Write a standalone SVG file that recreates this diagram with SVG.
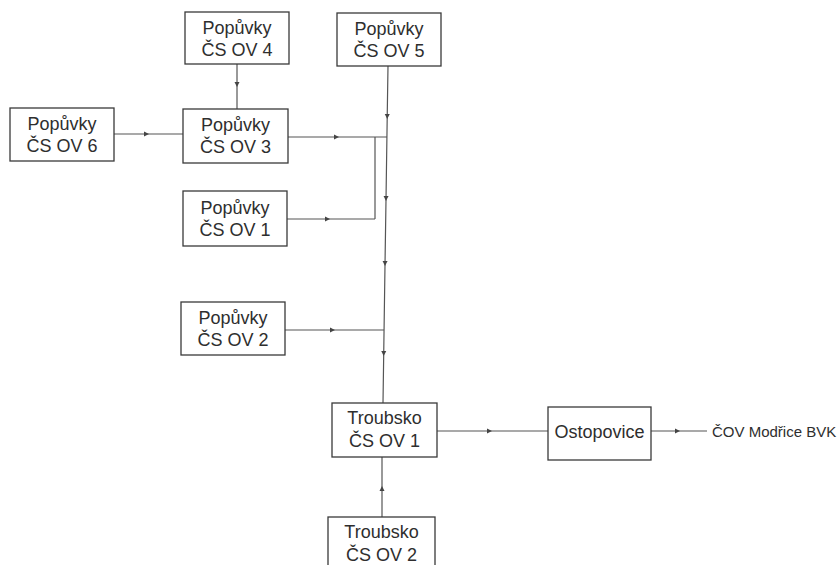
<svg xmlns="http://www.w3.org/2000/svg" width="839" height="565" viewBox="0 0 839 565">
<style>
.box{fill:#fff;stroke:#3a3a3a;stroke-width:1.3}
.t{font-family:"Liberation Sans",Arial,sans-serif;font-size:18px;fill:#2e2e2e;text-anchor:middle}
.lbl{font-family:"Liberation Sans",Arial,sans-serif;font-size:15px;fill:#2e2e2e}
.c{fill:none;stroke:#555;stroke-width:1.2}
.a{marker-mid:url(#arr)}
</style>
<defs>
<marker id="arr" markerUnits="userSpaceOnUse" markerWidth="8" markerHeight="8" refX="4" refY="3" orient="auto" viewBox="0 0 8 6">
<path d="M0,0.5 L5,3 L0,5.5 Z" fill="#444"/>
</marker>
</defs>
<rect width="839" height="565" fill="#fff"/>
<g id="connectors">
<path class="c a" d="M114,134 L148,134 L183,134"/>
<path class="c a" d="M237,64 L237,86 L237,109"/>
<path class="c a" d="M388,66 L387.2,118 L386,200 L385,265 L383.7,355 L383,403"/>
<path class="c a" d="M288,137 L338,137 L387,137"/>
<path class="c a" d="M287,219 L329,219 L375,219"/>
<path class="c" d="M375,219 L375,137"/>
<path class="c a" d="M285,330 L334,330 L384,330"/>
<path class="c a" d="M437,431 L491,431 L548,431"/>
<path class="c a" d="M651,431 L679,431 L707,431"/>
<path class="c a" d="M382,517 L382,487 L382,457"/>
</g>
<g id="ov6"><rect class="box" x="10" y="108" width="104" height="53"/><text class="t" x="62" y="130">Popůvky</text><text class="t" x="62" y="152">ČS OV 6</text></g>
<g id="ov4"><rect class="box" x="185" y="12" width="104" height="52"/><text class="t" x="237" y="34">Popůvky</text><text class="t" x="237" y="56">ČS OV 4</text></g>
<g id="ov5"><rect class="box" x="337" y="13" width="104" height="53"/><text class="t" x="389" y="35">Popůvky</text><text class="t" x="389" y="57">ČS OV 5</text></g>
<g id="ov3"><rect class="box" x="183" y="109" width="105" height="54"/><text class="t" x="235.5" y="131">Popůvky</text><text class="t" x="235.5" y="153">ČS OV 3</text></g>
<g id="ov1"><rect class="box" x="183" y="191" width="104" height="55"/><text class="t" x="235" y="214">Popůvky</text><text class="t" x="235" y="236">ČS OV 1</text></g>
<g id="ov2"><rect class="box" x="181" y="302" width="104" height="53"/><text class="t" x="233" y="324">Popůvky</text><text class="t" x="233" y="346">ČS OV 2</text></g>
<g id="troubsko1"><rect class="box" x="332" y="403" width="105" height="54"/><text class="t" x="384.5" y="424">Troubsko</text><text class="t" x="384.5" y="447">ČS OV 1</text></g>
<g id="ostopovice"><rect class="box" x="548" y="407" width="103" height="53"/><text class="t" x="599.5" y="438">Ostopovice</text></g>
<g id="troubsko2"><rect class="box" x="328" y="517" width="107" height="60"/><text class="t" x="381.5" y="538">Troubsko</text><text class="t" x="381.5" y="561">ČS OV 2</text></g>
<g id="cov"><text class="lbl" x="712" y="437">ČOV Modřice BVK</text></g>
</svg>
